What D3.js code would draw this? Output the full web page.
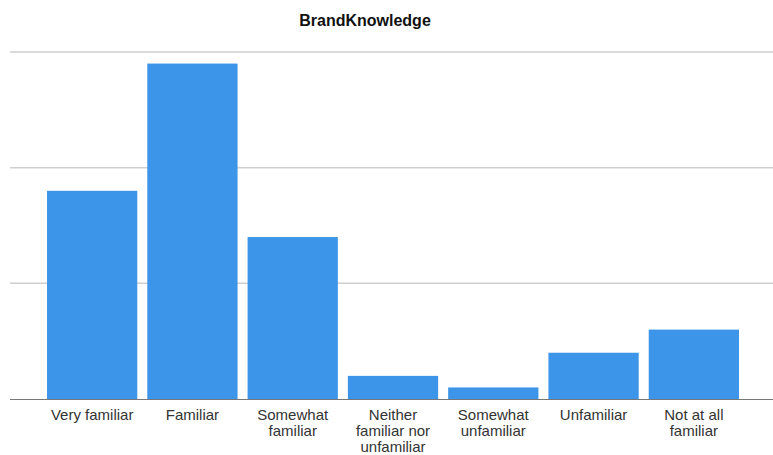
<!DOCTYPE html>
<html>
<head>
<meta charset="utf-8">
<script src="https://cdn.jsdelivr.net/npm/d3@7"></script>
<style>
  body { margin: 0; background: #fff; }
  text { font-family: Arial, "Liberation Sans", sans-serif; }
</style>
</head>
<body>
<script>
var width = 773;
var height = 455;

var categories = ["Very familiar", "Familiar", "Somewhat familiar", "Neither familiar nor unfamiliar",
                  "Somewhat unfamiliar", "Unfamiliar", "Not at all familiar"];
var counts = [18, 29, 14, 2, 1, 4, 6];
var yTicks = [0, 10, 20, 30];
var title = "BrandKnowledge";

var svg = d3.select("body").append("svg")
    .attr("width", width)
    .attr("height", height);

var x = d3.scaleBand()
    .domain(categories)
    .range([42, 744])
    .paddingInner(0.1)
    .paddingOuter(0.05);

var y = d3.scaleLinear()
    .domain([0, 30])
    .range([399, 52]);

//gridlines, no labels
svg.append("g")
    .selectAll("line")
    .data(yTicks.slice(1))
    .enter().append("line")
    .attr("x1", 10)
    .attr("x2", width)
    .attr("y1", function(d){ return y(d); })
    .attr("y2", function(d){ return y(d); })
    .attr("stroke", "#cfcfcf")
    .attr("stroke-width", 1.5);

//bars
svg.append("g")
    .selectAll("rect")
    .data(counts)
    .enter().append("rect")
    .attr("x", function(d, i){ return x(categories[i]); })
    .attr("y", function(d){ return y(d); })
    .attr("width", x.bandwidth())
    .attr("height", function(d){ return y(0) - y(d); })
    .attr("fill", "#3c95e8");

//baseline
svg.append("line")
    .attr("x1", 10)
    .attr("x2", width)
    .attr("y1", y(0) + 0.5)
    .attr("y2", y(0) + 0.5)
    .attr("stroke", "#777")
    .attr("stroke-width", 1.2);

//x axis labels
var xAxis = svg.append("g")
    .attr("transform", "translate(0," + y(0) + ")")
    .call(d3.axisBottom(x).tickSize(0).tickPadding(0));
xAxis.select(".domain").remove();
xAxis.selectAll("text")
    .attr("font-size", 15)
    .attr("fill", "#333")
    .attr("font-family", "Arial, 'Liberation Sans', sans-serif")
    .call(wrap, 92);

function wrap(sel, maxWidth){
    sel.each(function(){
        var text = d3.select(this);
        var words = text.text().split(" ");
        text.text(null);
        var line = [];
        var lineNo = 0;
        var tspan = text.append("tspan").attr("x", 0).attr("y", 21);
        words.forEach(function(w){
            line.push(w);
            tspan.text(line.join(" "));
            if (tspan.node().getComputedTextLength() > maxWidth && line.length > 1) {
                line.pop();
                tspan.text(line.join(" "));
                line = [w];
                lineNo++;
                tspan = text.append("tspan").attr("x", 0).attr("y", 21 + lineNo * 16).text(w);
            }
        });
        text.attr("dy", null);
    });
}

//title
svg.append("text")
    .attr("x", 365)
    .attr("y", 26)
    .attr("text-anchor", "middle")
    .attr("font-size", 16)
    .attr("font-weight", "bold")
    .attr("fill", "#111")
    .text(title);
</script>
</body>
</html>
